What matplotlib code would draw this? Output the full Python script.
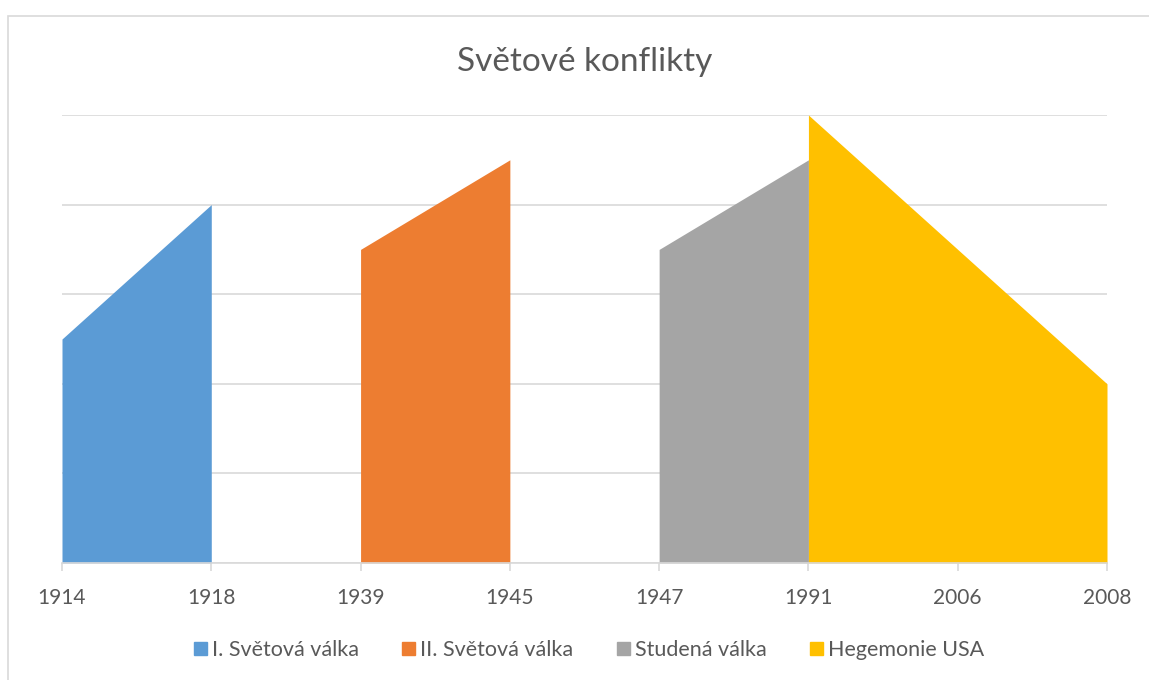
import numpy as np
import matplotlib.pyplot as plt
from matplotlib.patches import Rectangle

plt.rcParams['font.family'] = ['Lato', 'DejaVu Sans']

# kategorie na ose x
roky = ['1914', '1918', '1939', '1945', '1947', '1991', '2006', '2008']
nan = np.nan

# hodnoty jednotlivých období
prvni_valka = [2.5, 4, nan, nan, nan, nan, nan, nan]
druha_valka = [nan, nan, 3.5, 4.5, nan, nan, nan, nan]
studena_valka = [nan, nan, nan, nan, 3.5, 4.5, nan, nan]
hegemonie_usa = [nan, nan, nan, nan, nan, 5, 3.5, 2]

nazvy = ['I. Světová válka', 'II. Světová válka', 'Studená válka', 'Hegemonie USA']
barvy = ['#5B9BD5', '#ED7D31', '#A5A5A5', '#FFC000']
text_barva = '#595959'

fig = plt.figure(figsize=(11.49, 6.80), dpi=100)
ax = fig.add_axes([62 / 1149, 1 - 563 / 680, (1107 - 62) / 1149, (563 - 115) / 680])

x = np.arange(len(roky))
for serie, barva, nazev in zip([prvni_valka, druha_valka, studena_valka, hegemonie_usa], barvy, nazvy):
    y = np.array(serie, dtype=float)
    ax.fill_between(x, 0, y, color=barva, linewidth=0, label=nazev, zorder=2)

ax.set_xlim(0, len(roky) - 1)
ax.set_ylim(0, 5)
ax.set_yticks(np.arange(0, 6, 1))
ax.yaxis.grid(True, color='#D9D9D9', linewidth=1.2, zorder=0)
ax.set_axisbelow(True)
ax.tick_params(axis='y', length=0, labelleft=False)
ax.set_xticks(x)
ax.set_xticklabels(roky, fontsize=15, color=text_barva)
ax.tick_params(axis='x', length=6, color='#D9D9D9', width=1.2, pad=12)
for s in ['top', 'right', 'left']:
    ax.spines[s].set_visible(False)
ax.spines['bottom'].set_color('#D9D9D9')
ax.spines['bottom'].set_linewidth(1.2)

fig.text(585 / 1149, 1 - 62 / 680, 'Světové konflikty', ha='center', va='center',
         fontsize=24, color=text_barva)

handles = [Rectangle((0, 0), 1, 1, color=b) for b in barvy]
fig.legend(handles, nazvy, loc='center', bbox_to_anchor=(589 / 1149, 1 - 650 / 680), ncol=4,
           frameon=False, fontsize=15.5, labelcolor=text_barva, handlelength=0.6, handleheight=0.6,
           handletextpad=0.25, columnspacing=2.0)

# rámeček grafu
fig.patches.append(Rectangle((8 / 1149, -0.01), 1.05, 1 - 16 / 680 + 0.01, transform=fig.transFigure,
                             fill=False, edgecolor='#D9D9D9', linewidth=1.2))

fig.savefig('out.png', dpi=100)
